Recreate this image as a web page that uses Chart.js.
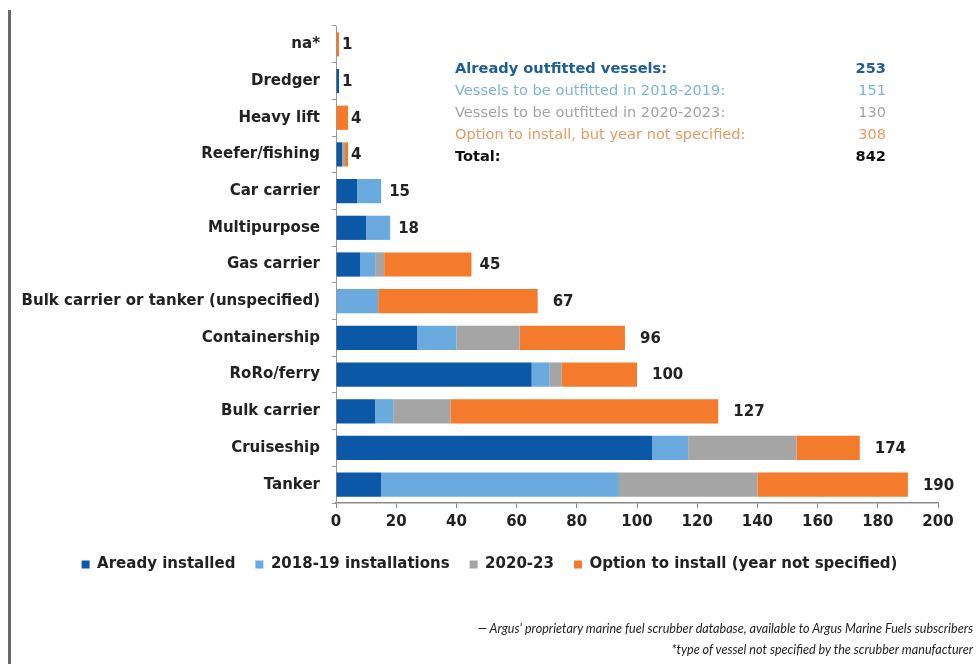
<!DOCTYPE html>
<html>
<head>
<meta charset="utf-8">
<script src="https://cdn.jsdelivr.net/npm/chart.js@4/dist/chart.umd.min.js"></script>
<style>
  body { margin: 0; background: #fff; width: 979px; height: 664px; overflow: hidden; position: relative; font-family: 'DejaVu Sans', sans-serif; }
  #edge { position: absolute; left: 8px; top: 10px; width: 3px; height: 654px; background: #6a6a6a; }
  #chart { position: absolute; left: 0; top: 0; }
  #summary { position: absolute; left: 455px; top: 57px; width: 431px; font-size: 14.6px; line-height: 22px; }
  #summary .row { display: flex; justify-content: space-between; }
  #notes { position: absolute; right: 6px; top: 618px; text-align: right; font-family: Lato, sans-serif; font-style: italic; font-size: 12.6px; line-height: 21px; color: #222; }
</style>
</head>
<body>
<div id="edge"></div>
<canvas id="chart" width="979" height="664"></canvas>
<div id="summary"></div>
<div id="notes">
  <div>— Argus' proprietary marine fuel scrubber database, available to Argus Marine Fuels subscribers</div>
  <div>*type of vessel not specified by the scrubber manufacturer</div>
</div>
<script>
const categories = ['na*', 'Dredger', 'Heavy lift', 'Reefer/fishing', 'Car carrier', 'Multipurpose', 'Gas carrier',
  'Bulk carrier or tanker (unspecified)', 'Containership', 'RoRo/ferry', 'Bulk carrier', 'Cruiseship', 'Tanker']
const installed = [0, 1, 0, 2, 7, 10, 8, 0, 27, 65, 13, 105, 15]
const fitted1819 = [0, 0, 0, 0, 8, 8, 5, 14, 13, 6, 6, 12, 79]
const fitted2023 = [0, 0, 0, 1, 0, 0, 3, 0, 21, 4, 19, 36, 46]
const optional = [1, 0, 4, 1, 0, 0, 29, 53, 35, 25, 89, 21, 50]
const seriesNames = ['Aready installed', '2018-19 installations', '2020-23', 'Option to install (year not specified)']
const xTicks = [0, 20, 40, 60, 80, 100, 120, 140, 160, 180, 200]

const summaryLabels = ['Already outfitted vessels:', 'Vessels to be outfitted in 2018-2019:', 'Vessels to be outfitted in 2020-2023:',
  'Option to install, but year not specified:', 'Total:']
const summaryValues = [253, 151, 130, 308, 842]

const colors = ['#0b58a6', '#6aaade', '#a5a5a5', '#f47b2b']
const summaryStyles = [
  { color: '#1d5f92', weight: 700 },
  { color: '#7db5d6', weight: 400 },
  { color: '#a3a3a3', weight: 400 },
  { color: '#e99a60', weight: 400 },
  { color: '#111', weight: 700 }
]

const summary = document.getElementById('summary')
summaryLabels.forEach((label, i) => {
  const row = document.createElement('div')
  row.className = 'row'
  row.style.color = summaryStyles[i].color
  row.style.fontWeight = summaryStyles[i].weight
  const a = document.createElement('span')
  a.textContent = label
  const b = document.createElement('span')
  b.textContent = summaryValues[i]
  row.appendChild(a)
  row.appendChild(b)
  summary.appendChild(row)
})

const font = { family: "'DejaVu Sans', sans-serif", size: 15, weight: 'bold' }

// totals written at the end of each bar
const totalsPlugin = {
  id: 'totals',
  afterDatasetsDraw (chart) {
    const { ctx, scales: { x, y } } = chart
    ctx.save()
    ctx.font = 'bold 15px "DejaVu Sans", sans-serif'
    ctx.fillStyle = '#222'
    ctx.textBaseline = 'middle'
    categories.forEach((c, i) => {
      const total = installed[i] + fitted1819[i] + fitted2023[i] + optional[i]
      const gap = total < 10 ? 3 : total < 50 ? 8 : 15
      ctx.fillText(String(total), x.getPixelForValue(total) + gap, y.getPixelForValue(i) + 1)
    })
    ctx.restore()
  },
  afterLayout (chart) {
    // centre the legend on the whole canvas and lift it a bit
    const lg = chart.legend
    lg.left = 0
    lg.right = 979
    lg.width = 979
    lg.top = 537
    lg.bottom = lg.top + lg.height
  }
}

new Chart(document.getElementById('chart'), {
  type: 'bar',
  data: {
    labels: categories,
    datasets: [installed, fitted1819, fitted2023, optional].map((d, i) => ({
      label: seriesNames[i],
      data: d,
      backgroundColor: colors[i],
      borderWidth: 0,
      categoryPercentage: 1,
      barPercentage: 0.66
    }))
  },
  options: {
    indexAxis: 'y',
    responsive: false,
    animation: false,
    devicePixelRatio: 1,
    layout: { padding: { left: 0, top: 26, right: 41, bottom: 76 } },
    scales: {
      x: {
        stacked: true,
        min: 0,
        max: 200,
        afterBuildTicks: (s) => { s.ticks = xTicks.map(v => ({ value: v })) },
        afterFit: (s) => { s.height = 40 },
        grid: { drawOnChartArea: false, tickLength: 5, color: '#8a8a8a' },
        border: { color: '#8a8a8a', width: 1.5 },
        ticks: { font, color: '#222', padding: 5 }
      },
      y: {
        stacked: true,
        afterFit: (s) => { s.width = 336 },
        grid: { drawOnChartArea: false, tickLength: 4, color: '#9a9a9a' },
        border: { color: '#9a9a9a', width: 1 },
        ticks: { font, color: '#222', padding: 12 }
      }
    },
    plugins: {
      tooltip: { enabled: false },
      legend: {
        position: 'bottom',
        labels: { boxWidth: 8, boxHeight: 8, padding: 20, color: '#222', font }
      }
    }
  },
  plugins: [totalsPlugin]
})
</script>
</body>
</html>
